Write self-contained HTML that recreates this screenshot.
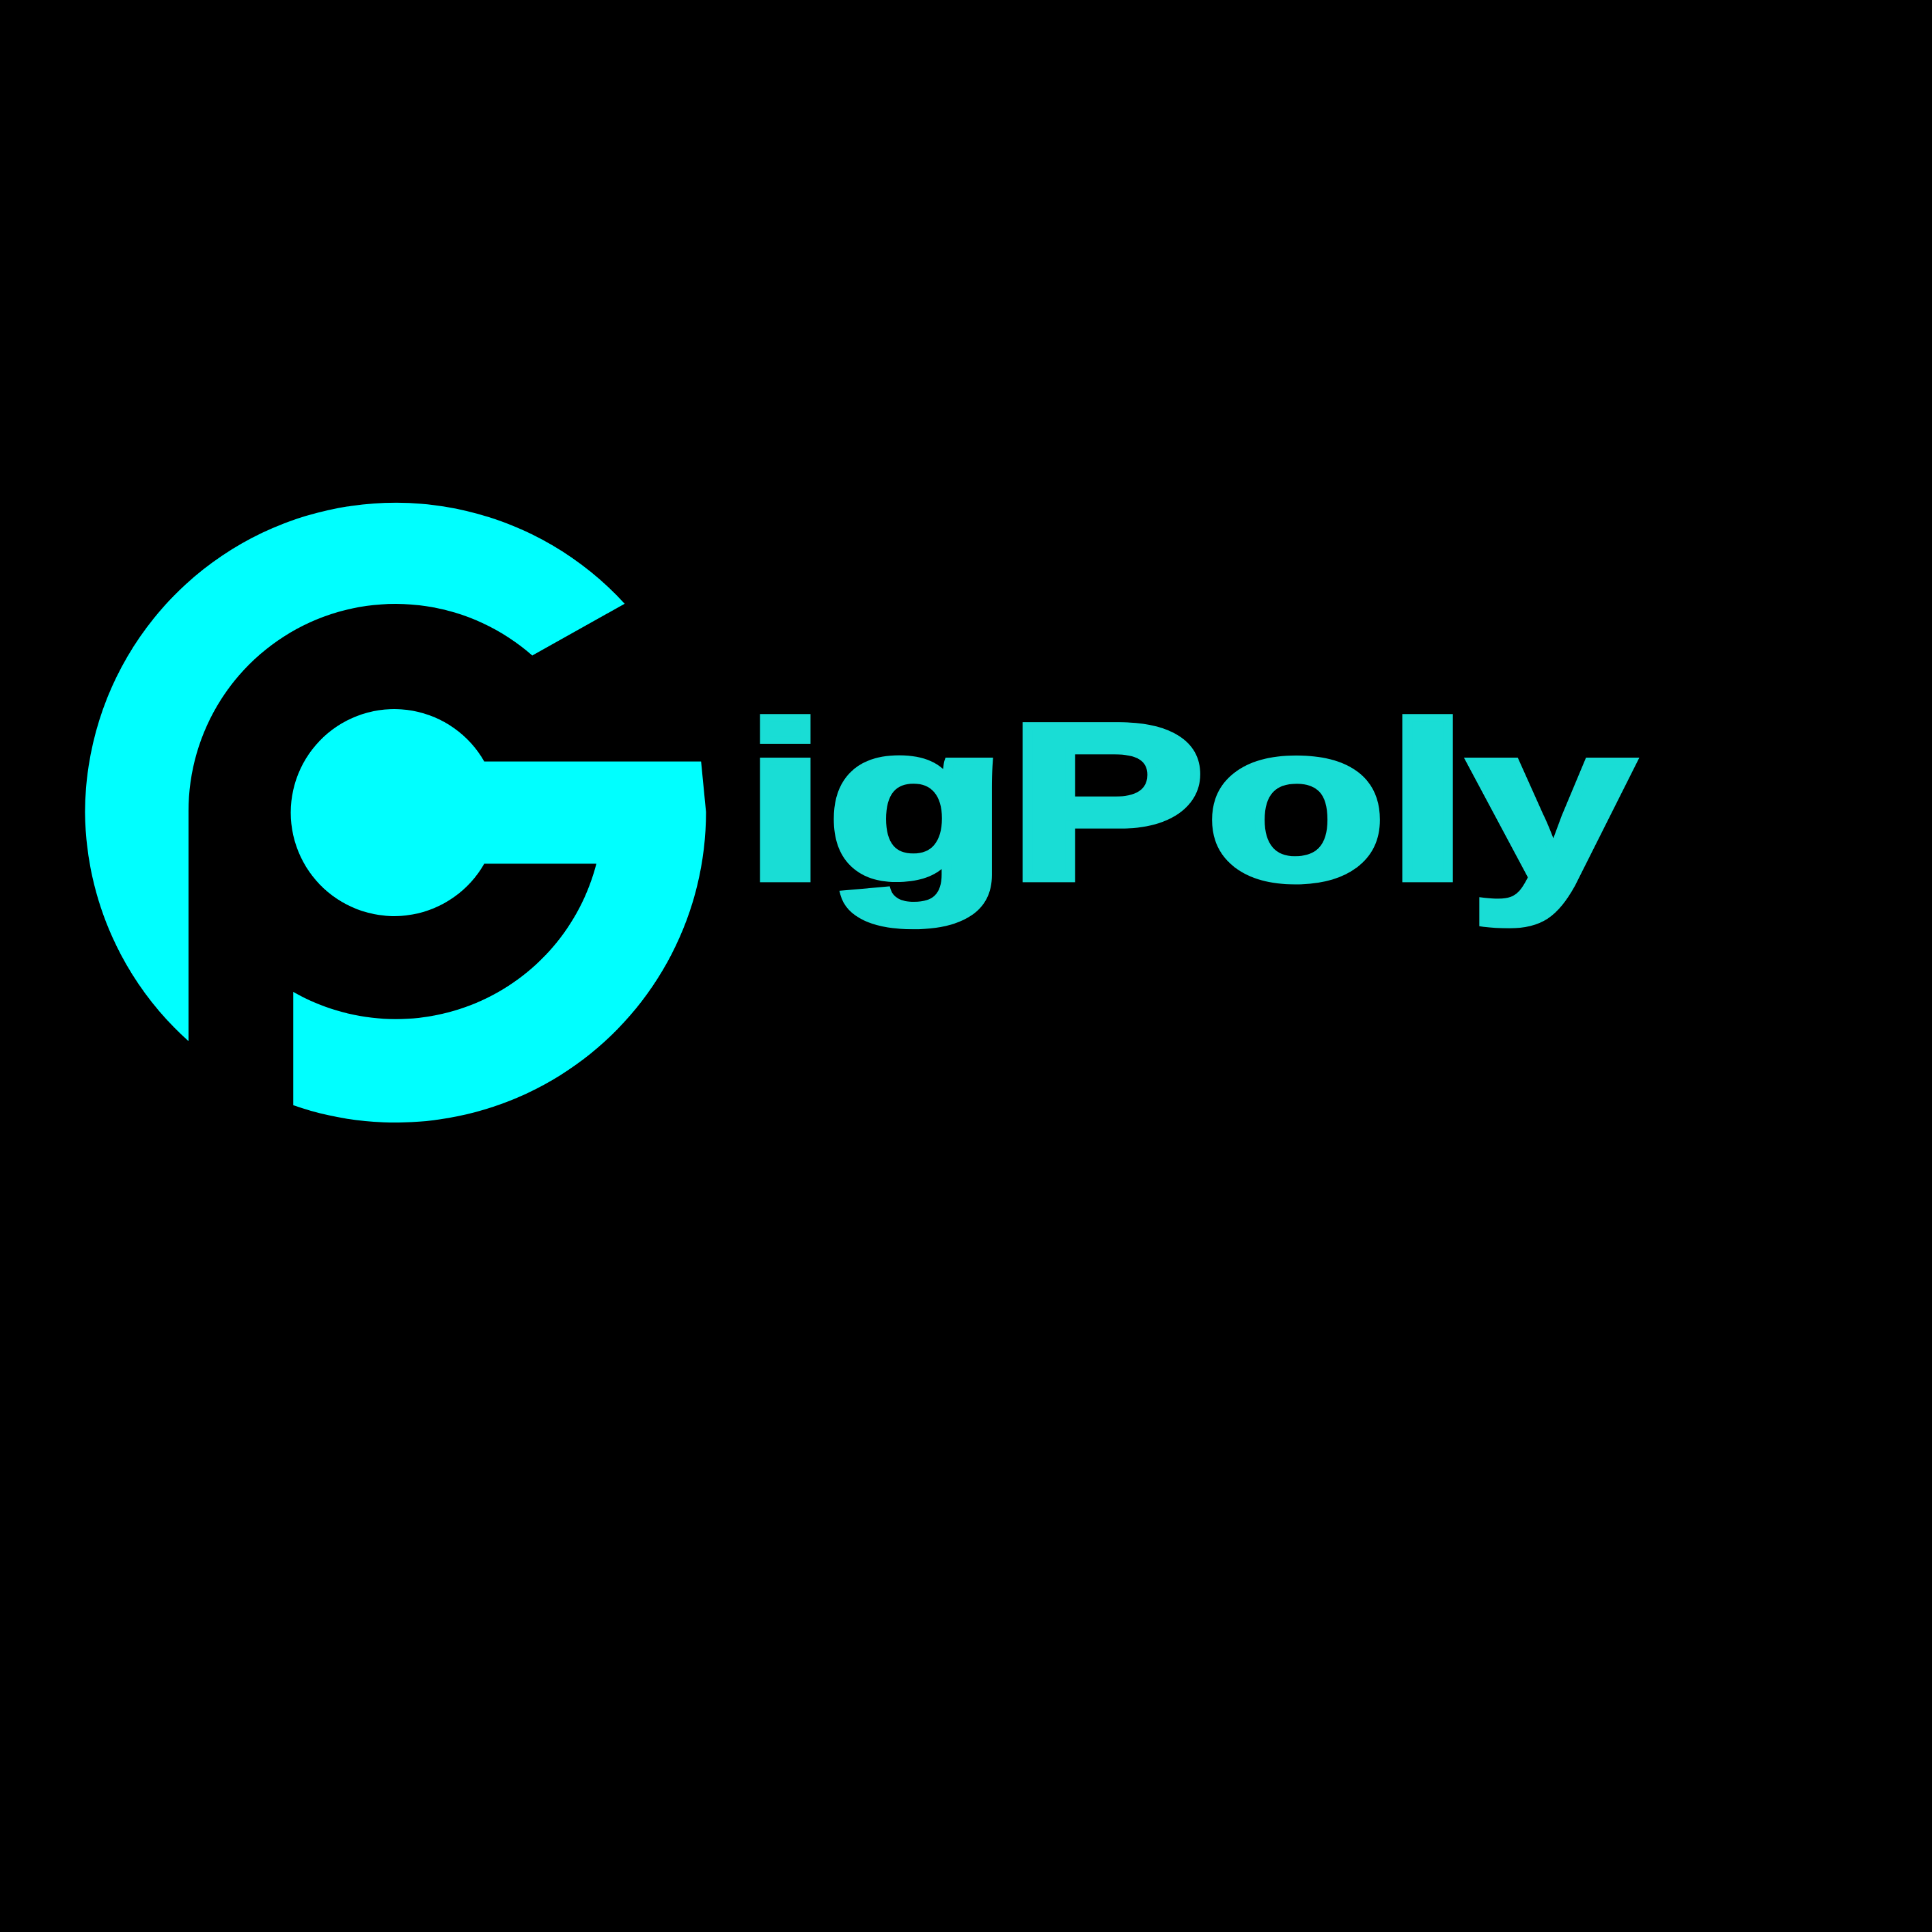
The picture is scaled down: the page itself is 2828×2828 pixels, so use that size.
<!DOCTYPE html>
<html>
<head>
<meta charset="utf-8">
<style>
  html,body{margin:0;padding:0;background:#000;}
  svg{display:block;}
</style>
</head>
<body>
<svg width="2828" height="2828" viewBox="0 0 1568 1568" xmlns="http://www.w3.org/2000/svg">
  <rect x="0" y="0" width="1568" height="1568" fill="#000"/>
  <g fill="#00FFFF">
    <path d="M507,490 A252,252 0 0 0 69,659 A252,252 0 0 0 153,845 L153,659 A168,168 0 0 1 432,532 Z"/>
    <path d="M238,897 A252,252 0 0 0 573,659 L569,618 L393,618 A84,84 0 1 0 393,701 L484,701 A168,168 0 0 1 238,805 Z"/>
  </g>
  <text x="604" y="713" font-family="'Liberation Sans', sans-serif" font-weight="bold" font-size="180" fill="#19DDD5" stroke="#19DDD5" stroke-width="6" textLength="722" lengthAdjust="spacingAndGlyphs">igPoly</text>
</svg>
</body>
</html>
